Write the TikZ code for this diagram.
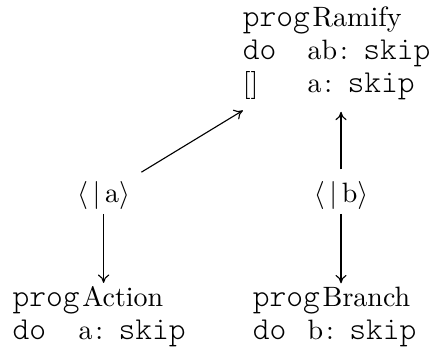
\documentclass[tikz,border=0pt]{standalone}
\usepackage{amsmath}
\usepackage{fontspec}
\newfontfamily\monolight{lmmonolt10-regular.otf}[Scale=1.14]
\usetikzlibrary{arrows.meta,positioning}
\newcommand{\kw}[1]{{\monolight #1}}
\newcommand{\stmt}[3]{\makebox[#1][l]{#2}#3\kern1pt:\hspace{5.5pt}\kw{skip}}

\begin{document}
\begin{tikzpicture}[
  node distance=43.35pt and 84.8pt, on grid,
  every node/.style={align=left, inner sep=3pt,
                     font=\fontsize{10pt}{11.8pt}\selectfont},
  arr/.style={-{Computer Modern Rightarrow[length=3pt,width=4pt]},
              shorten <=1pt, shorten >=1pt}
]
\useasboundingbox (-37pt,-54.2pt) rectangle (117.3pt,69.7pt);
\node (la) {$\langle\,|\,\mathrm{a}\rangle$};
\node (lb) [right=of la] {$\langle\,|\,\mathrm{b}\rangle$};
\node (ramify) [above=50.6pt of lb, xshift=-1.6pt] {\kw{prog}\kern1pt Ramify\\
  \stmt{23.2pt}{\kw{do}}{ab}\\
  \stmt{23.2pt}{[]}{a}};
\node (action) [below=of la, xshift=-1.6pt] {\kw{prog}\kern1pt Action\\
  \stmt{23.6pt}{\kw{do}}{a}};
\node (branch) [below=of lb, xshift=-2.3pt] {\kw{prog}\kern1pt Branch\\
  \stmt{19.6pt}{\kw{do}}{b}};

\draw[arr, shorten <=-1.5pt, shorten >=-2pt] (la) -- (la |- action.north);
\draw[arr] (la) -- (ramify);
\draw[arr, shorten <=-1.5pt, shorten >=-2pt] (lb) -- (lb |- branch.north);
\draw[arr] (lb) -- (lb |- ramify.south);
\end{tikzpicture}
\end{document}
